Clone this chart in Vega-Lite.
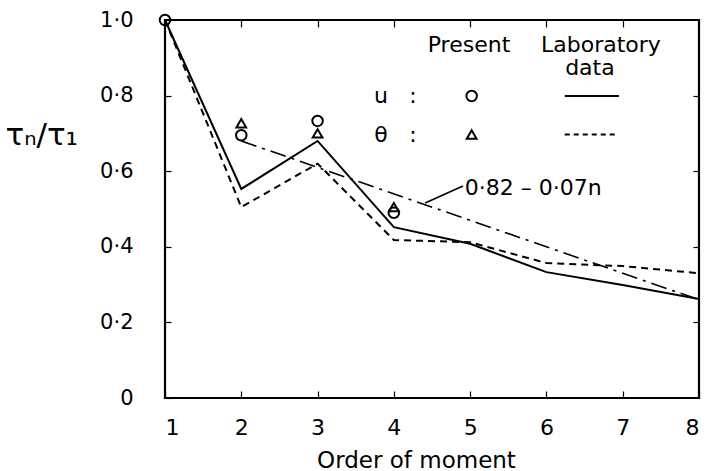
{
  "$schema": "https://vega.github.io/schema/vega-lite/v6.json",
  "width": 534,
  "height": 378,
  "autosize": {"type": "none"},
  "padding": {"left": 165, "top": 20, "right": 5, "bottom": 73},
  "background": "white",
  "config": {
    "view": {"stroke": "black", "strokeWidth": 2.2},
    "font": "DejaVu Sans",
    "axis": {"grid": false, "domain": false, "tickColor": "black", "tickWidth": 1.2, "labelColor": "black", "titleColor": "black", "labelFont": "DejaVu Sans", "titleFont": "DejaVu Sans", "titleFontWeight": "normal"}
  },
  "datasets": {
    "lab": [
      {"n": 1, "v": 1.0, "series": "u"}, {"n": 2, "v": 0.553, "series": "u"}, {"n": 3, "v": 0.68, "series": "u"}, {"n": 4, "v": 0.452, "series": "u"},
      {"n": 5, "v": 0.408, "series": "u"}, {"n": 6, "v": 0.333, "series": "u"}, {"n": 7, "v": 0.299, "series": "u"}, {"n": 8, "v": 0.262, "series": "u"},
      {"n": 1, "v": 1.0, "series": "theta"}, {"n": 2, "v": 0.505, "series": "theta"}, {"n": 3, "v": 0.62, "series": "theta"}, {"n": 4, "v": 0.418, "series": "theta"},
      {"n": 5, "v": 0.412, "series": "theta"}, {"n": 6, "v": 0.357, "series": "theta"}, {"n": 7, "v": 0.349, "series": "theta"}, {"n": 8, "v": 0.33, "series": "theta"}
    ],
    "present": [
      {"n": 1, "v": 1.0, "series": "u"}, {"n": 2, "v": 0.695, "series": "u"}, {"n": 3, "v": 0.733, "series": "u"}, {"n": 4, "v": 0.49, "series": "u"},
      {"n": 2, "v": 0.727, "series": "theta"}, {"n": 3, "v": 0.70, "series": "theta"}, {"n": 4, "v": 0.505, "series": "theta"},
      {"n": 5.02, "v": 0.799, "series": "u"}, {"n": 5.02, "v": 0.697, "series": "theta"}
    ],
    "fit": [{"n": 2, "v": 0.68}, {"n": 8, "v": 0.26}],
    "leader": [{"n": 4.41, "v": 0.516}, {"n": 4.906, "v": 0.561}],
    "legendLines": [
      {"n": 6.24, "v": 0.799, "series": "u"}, {"n": 6.95, "v": 0.799, "series": "u"},
      {"n": 6.24, "v": 0.697, "series": "theta"}, {"n": 6.93, "v": 0.697, "series": "theta"}
    ],
    "legendText": [
      {"n": 4.985, "v": 0.934, "label": "Present"},
      {"n": 6.715, "v": 0.934, "label": "Laboratory"},
      {"n": 6.57, "v": 0.873, "label": "data"},
      {"n": 3.83, "v": 0.80, "label": "u"},
      {"n": 4.25, "v": 0.80, "label": ":"},
      {"n": 3.83, "v": 0.697, "label": "θ"},
      {"n": 4.25, "v": 0.697, "label": ":"}
    ],
    "annot": [{"n": 4.93, "v": 0.556, "label": "0·82 – 0·07n"}]
  },
  "encoding": {
    "x": {"field": "n", "type": "quantitative", "scale": {"domain": [1, 8], "nice": false, "zero": false}, "axis": null},
    "y": {"field": "v", "type": "quantitative", "scale": {"domain": [0, 1], "nice": false}, "axis": null}
  },
  "layer": [
    {
      "data": {"name": "fit"},
      "mark": {"type": "point", "opacity": 0},
      "encoding": {
        "x": {"field": "n", "type": "quantitative", "scale": {"domain": [1, 8], "nice": false, "zero": false},
          "axis": {"orient": "bottom", "values": [1, 2, 3, 4, 5, 6, 7, 8], "format": "d", "tickSize": -7, "labelPadding": 26, "labelFontSize": 22,
            "title": "Order  of  moment", "titleFontSize": 23, "titleBaseline": "middle", "titleAlign": "center", "titleX": 251, "titleY": 62}},
        "y": {"field": "v", "type": "quantitative", "scale": {"domain": [0, 1], "nice": false},
          "axis": {"orient": "left", "values": [0, 0.2, 0.4, 0.6, 0.8, 1.0], "tickSize": -6, "labelPadding": 38, "labelFontSize": 21,
            "labelExpr": "datum.value == 0 ? '0' : replace(format(datum.value, '.1f'), '.', '·')",
            "title": "τₙ/τ₁", "titleAngle": 0, "titleAlign": "left", "titleBaseline": "middle", "titleX": -160, "titleY": 115, "titleFontSize": 31}}
      }
    },
    {
      "data": {"name": "fit"},
      "mark": {"type": "point", "opacity": 0},
      "encoding": {
        "x": {"field": "n", "type": "quantitative", "scale": {"domain": [1, 8], "nice": false, "zero": false},
          "axis": {"orient": "top", "values": [2, 3, 4, 5, 6, 7], "tickSize": -7, "labels": false, "title": null}},
        "y": {"field": "v", "type": "quantitative", "scale": {"domain": [0, 1], "nice": false},
          "axis": {"orient": "right", "values": [0.2, 0.4, 0.6, 0.8], "tickSize": -6, "labels": false, "title": null}}
      }
    },
    {
      "data": {"name": "lab"},
      "transform": [{"filter": "datum.series == 'u'"}],
      "mark": {"type": "line", "color": "black", "strokeWidth": 2},
      "encoding": {}
    },
    {
      "data": {"name": "lab"},
      "transform": [{"filter": "datum.series == 'theta'"}],
      "mark": {"type": "line", "color": "black", "strokeWidth": 2, "strokeDash": [7, 5]},
      "encoding": {}
    },
    {
      "data": {"name": "fit"},
      "mark": {"type": "line", "color": "black", "strokeWidth": 1.6, "strokeDash": [16, 6, 3, 6]},
      "encoding": {}
    },
    {
      "data": {"name": "leader"},
      "mark": {"type": "line", "color": "black", "strokeWidth": 1.6},
      "encoding": {}
    },
    {
      "data": {"name": "legendLines"},
      "transform": [{"filter": "datum.series == 'u'"}],
      "mark": {"type": "line", "color": "black", "strokeWidth": 2},
      "encoding": {}
    },
    {
      "data": {"name": "legendLines"},
      "transform": [{"filter": "datum.series == 'theta'"}],
      "mark": {"type": "line", "color": "black", "strokeWidth": 2, "strokeDash": [5, 4]},
      "encoding": {}
    },
    {
      "data": {"name": "present"},
      "transform": [{"filter": "datum.series == 'u'"}],
      "mark": {"type": "point", "shape": "circle", "filled": false, "color": "black", "strokeWidth": 2, "size": 110, "opacity": 1},
      "encoding": {}
    },
    {
      "data": {"name": "present"},
      "transform": [{"filter": "datum.series == 'theta'"}],
      "mark": {"type": "point", "shape": "triangle-up", "filled": false, "color": "black", "strokeWidth": 2, "size": 95, "opacity": 1},
      "encoding": {}
    },
    {
      "data": {"name": "legendText"},
      "mark": {"type": "text", "align": "center", "baseline": "middle", "fontSize": 22, "color": "black"},
      "encoding": {"text": {"field": "label"}}
    },
    {
      "data": {"name": "annot"},
      "mark": {"type": "text", "align": "left", "baseline": "middle", "fontSize": 22, "color": "black"},
      "encoding": {"text": {"field": "label"}}
    }
  ],
  "resolve": {"axis": {"x": "independent", "y": "independent"}}
}
